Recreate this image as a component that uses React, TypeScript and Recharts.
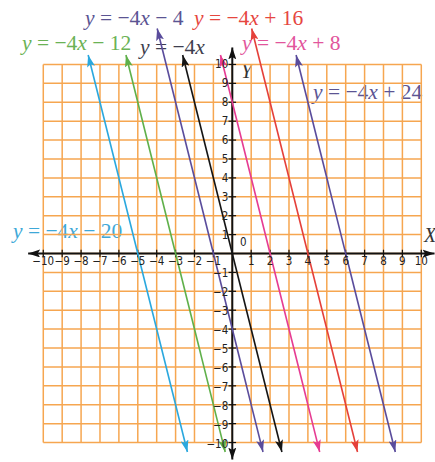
import React from 'react';
import { LineChart, Line, XAxis, YAxis, ReferenceDot, Customized } from 'recharts';

// Family of parallel lines y = -4x + b
const SLOPE = -4;
const intercepts = [-20, -12, -4, 0, 8, 16, 24];
// y value at the upper and lower arrow tips of each line
const upperEnds = [10.5, 10.5, 11.9, 10.5, 10.5, 11.9, 10.5];
const lowerEnds = [-10.5, -10.5, -10.5, -10.5, -10.5, -10.5, -10.5];

// Unit grid and labelled ticks
const gridValues = [-10, -9, -8, -7, -6, -5, -4, -3, -2, -1, 0, 1, 2, 3, 4, 5, 6, 7, 8, 9, 10];
const xTickValues = [-10, -9, -8, -7, -6, -5, -4, -3, -2, -1, 1, 2, 3, 4, 5, 6, 7, 8, 9, 10];
const yTickValues = [10, 9, 8, 7, 6, 5, 4, 3, 2, 1, -1, -2, -3, -4, -5, -6, -7, -8, -9, -10];
const xAxisSpan = [-10.8, 10.7];
const yAxisSpan = [-10.9, 10.9];

// ---- styling / layout ----
const W = 435;
const H = 462;
const X_DOMAIN: [number, number] = [-12.29, 10.725];
const Y_DOMAIN: [number, number] = [-11.03, 13.41];
const GRID_COLOR = '#f6a650';
const LINE_COLORS = ['#2aa8de', '#5fb04a', '#5a4c9c', '#151515', '#e63b92', '#e5403a', '#5a4c9c'];
const LABEL_COLORS = ['#3ea8d8', '#6bb255', '#5b5493', '#3e3e4e', '#e2559c', '#e6473f', '#5b5493'];
const LABEL_POS = [
  { x: 13, y: 238, bg: true },
  { x: 22, y: 50, bg: false },
  { x: 85, y: 25, bg: false },
  { x: 140, y: 54, bg: false },
  { x: 242, y: 50, bg: false },
  { x: 194, y: 25, bg: false },
  { x: 313, y: 99, bg: true },
];
const SERIF = "'Liberation Serif', 'Times New Roman', serif";
const TICK_FONT = "'Liberation Sans Narrow', 'DejaVu Sans Condensed', 'Liberation Sans', sans-serif";

const minus = (v: number) => (v < 0 ? `\u2212${Math.abs(v)}` : `${v}`);

const lineData = (b: number, top: number, bottom: number) => [
  { x: (top - b) / SLOPE, y: top },
  { x: (bottom - b) / SLOPE, y: bottom },
];

const markerId = (c: string) => `arrow-${c.replace('#', '')}`;

function ArrowDefs() {
  const colors = Array.from(new Set([...LINE_COLORS, '#111111']));
  return (
    <svg width={0} height={0} style={{ position: 'absolute' }}>
      <defs>
        {colors.map((c) => (
          <marker
            key={c}
            id={markerId(c)}
            viewBox="0 0 12 8"
            refX={12}
            refY={4}
            markerWidth={12}
            markerHeight={8}
            markerUnits="userSpaceOnUse"
            orient="auto-start-reverse"
          >
            <path d="M0,0 L12,4 L0,8 L2.5,4 Z" fill={c} />
          </marker>
        ))}
      </defs>
    </svg>
  );
}

function Equations() {
  const k = `\u2212${Math.abs(SLOPE)}`;
  return (
    <g>
      {intercepts.map((b, i) => {
        const p = LABEL_POS[i];
        const tail = b === 0 ? '' : b > 0 ? ` + ${b}` : ` \u2212 ${Math.abs(b)}`;
        return (
          <g key={b}>
            {p.bg && (
              <rect x={p.x - 3} y={p.y - 16} width={b === 0 ? 72 : 118} height={21} fill="#ffffff" fillOpacity={0.6} />
            )}
            <text
              x={p.x}
              y={p.y}
              fill={LABEL_COLORS[i]}
              fontFamily={SERIF}
              fontSize={21.5}
              style={{ whiteSpace: 'pre' }}
            >
              <tspan fontStyle="italic">y</tspan>
              <tspan>{` = ${k}`}</tspan>
              <tspan fontStyle="italic">x</tspan>
              {tail && <tspan>{tail}</tspan>}
            </text>
          </g>
        );
      })}
      <text x={424} y={242} fontFamily={SERIF} fontStyle="italic" fontSize={20} fill="#333">X</text>
      <text x={241} y={78} fontFamily={SERIF} fontStyle="italic" fontSize={20} fill="#333">Y</text>
    </g>
  );
}

const tickText = (text: string, dx: number, dy: number, anchor: string) => (props: any) => {
  const vb = props.viewBox || {};
  const cx = (vb.x ?? 0) + (vb.width ?? 0) / 2;
  const cy = (vb.y ?? 0) + (vb.height ?? 0) / 2;
  return (
    <text
      x={cx + dx}
      y={cy + dy}
      textAnchor={anchor}
      fontFamily={TICK_FONT}
      fontSize={11.5}
      fill="#222"
    >
      {text}
    </text>
  );
};

export default function App() {
  return (
    <div style={{ position: 'absolute', left: 0, top: 0, width: W, height: H, background: '#fff' }}>
      <ArrowDefs />
      <LineChart width={W} height={H} margin={{ top: 0, right: 0, bottom: 0, left: 0 }}>
        <XAxis type="number" dataKey="x" domain={X_DOMAIN} allowDataOverflow hide />
        <YAxis type="number" dataKey="y" domain={Y_DOMAIN} allowDataOverflow hide />

        {/* orange unit grid */}
        {gridValues.map((v) => (
          <Line
            key={`gv${v}`}
            data={[{ x: v, y: -10 }, { x: v, y: 10 }]}
            dataKey="y"
            stroke={GRID_COLOR}
            strokeWidth={1.5}
            dot={false}
            activeDot={false}
            isAnimationActive={false}
          />
        ))}
        {gridValues.map((v) => (
          <Line
            key={`gh${v}`}
            data={[{ x: -10, y: v }, { x: 10, y: v }]}
            dataKey="y"
            stroke={GRID_COLOR}
            strokeWidth={1.5}
            dot={false}
            activeDot={false}
            isAnimationActive={false}
          />
        ))}

        {/* coordinate axes */}
        <Line
          data={[{ x: xAxisSpan[0], y: 0 }, { x: xAxisSpan[1], y: 0 }]}
          dataKey="y"
          stroke="#111111"
          strokeWidth={2}
          dot={false}
          activeDot={false}
          isAnimationActive={false}
          markerStart={`url(#${markerId('#111111')})`}
          markerEnd={`url(#${markerId('#111111')})`}
        />
        <Line
          data={[{ x: 0, y: yAxisSpan[0] }, { x: 0, y: yAxisSpan[1] }]}
          dataKey="y"
          stroke="#111111"
          strokeWidth={2}
          dot={false}
          activeDot={false}
          isAnimationActive={false}
          markerStart={`url(#${markerId('#111111')})`}
          markerEnd={`url(#${markerId('#111111')})`}
        />
        {xTickValues.map((v) => (
          <Line
            key={`tx${v}`}
            data={[{ x: v, y: -0.2 }, { x: v, y: 0.2 }]}
            dataKey="y"
            stroke="#111111"
            strokeWidth={1.2}
            dot={false}
            activeDot={false}
            isAnimationActive={false}
          />
        ))}
        {yTickValues.map((v) => (
          <Line
            key={`ty${v}`}
            data={[{ x: -0.2, y: v }, { x: 0.2, y: v }]}
            dataKey="y"
            stroke="#111111"
            strokeWidth={1.2}
            dot={false}
            activeDot={false}
            isAnimationActive={false}
          />
        ))}

        {/* the seven parallel lines */}
        {intercepts.map((b, i) => (
          <Line
            key={`l${b}`}
            data={lineData(b, upperEnds[i], lowerEnds[i])}
            dataKey="y"
            stroke={LINE_COLORS[i]}
            strokeWidth={1.6}
            dot={false}
            activeDot={false}
            isAnimationActive={false}
            markerStart={`url(#${markerId(LINE_COLORS[i])})`}
            markerEnd={`url(#${markerId(LINE_COLORS[i])})`}
          />
        ))}

        {/* tick labels */}
        {xTickValues.map((v) => (
          <ReferenceDot
            key={`lx${v}`}
            x={v}
            y={0}
            r={0}
            fill="none"
            stroke="none"
            label={tickText(minus(v), 0, 12, 'middle')}
          />
        ))}
        {yTickValues.map((v) => (
          <ReferenceDot
            key={`ly${v}`}
            x={0}
            y={v}
            r={0}
            fill="none"
            stroke="none"
            label={tickText(minus(v), -4, v < 0 ? 5 : 4, 'end')}
          />
        ))}
        <ReferenceDot x={0} y={0} r={0} fill="none" stroke="none" label={tickText('0', 11, -7, 'middle')} />

        <Customized component={<Equations />} />
      </LineChart>
    </div>
  );
}
